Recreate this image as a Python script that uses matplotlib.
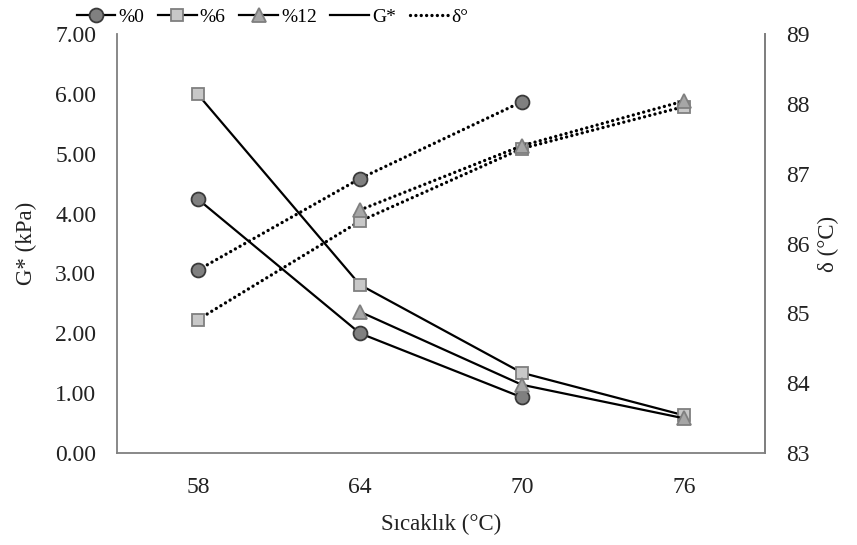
import numpy as np
import matplotlib.pyplot as plt
from matplotlib.lines import Line2D

plt.rcParams['font.family'] = ['Liberation Serif', 'DejaVu Serif']

temps = ['58', '64', '70', '76']
nan = np.nan

gstar_0 = [4.24, 2.00, 0.93, nan]
gstar_6 = [5.99, 2.81, 1.34, 0.63]
gstar_12 = [nan, 2.36, 1.14, 0.58]

delta_0 = [85.62, 86.93, 88.03, nan]
delta_6 = [84.91, 86.32, 87.36, 87.96]
delta_12 = [nan, 86.48, 87.40, 88.04]

series_names = ['%0', '%6', '%12']
markers = {'%0': 'o', '%6': 's', '%12': '^'}
faces = {'%0': '#808080', '%6': '#c8c8c8', '%12': '#a6a6a6'}
edges = {'%0': '#3a3a3a', '%6': '#7f7f7f', '%12': '#7f7f7f'}
msize = {'%0': 10, '%6': 9, '%12': 10}

fig = plt.figure(figsize=(8.57, 5.45), dpi=100)
ax = fig.add_axes([0.1365, 0.1688, 0.756, 0.7688])
ax2 = ax.twinx()

x = np.arange(len(temps))
dot_style = dict(linestyle=(0, (0.01, 1.6)), linewidth=2.4, dash_capstyle='round', color='black')

for name, g, d in zip(series_names, [gstar_0, gstar_6, gstar_12], [delta_0, delta_6, delta_12]):
    g = np.array(g, dtype=float)
    d = np.array(d, dtype=float)
    mk = dict(marker=markers[name], markersize=msize[name], markerfacecolor=faces[name],
              markeredgecolor=edges[name], markeredgewidth=1.3)
    ax.plot(x[~np.isnan(g)], g[~np.isnan(g)], color='black', linewidth=1.6, zorder=3, **mk)
    ax2.plot(x[~np.isnan(d)], d[~np.isnan(d)], zorder=3, **dot_style, **mk)

ax.set_xlim(-0.5, 3.5)
ax.set_ylim(0, 7)
ax2.set_ylim(83, 89)
ax.set_xticks(x)
ax.set_xticklabels(temps)
ax.set_yticks(np.arange(0, 8, 1))
ax.set_yticklabels([f'{v:.2f}' for v in np.arange(0, 8, 1)])
ax2.set_yticks(np.arange(83, 90, 1))

for a in (ax, ax2):
    a.spines['top'].set_visible(False)
    for s in ('left', 'right', 'bottom'):
        a.spines[s].set_color('#7f7f7f')
        a.spines[s].set_linewidth(1.3)
    a.tick_params(length=0, labelsize=17, colors='#222222')
ax.tick_params(axis='y', pad=15)
ax.tick_params(axis='x', pad=17)
ax2.tick_params(axis='y', pad=15)
ax2.spines['left'].set_visible(False)
ax2.spines['bottom'].set_visible(False)

ax.set_xlabel('Sıcaklık (°C)', fontsize=16.5, color='#222222', labelpad=12)
ax.set_ylabel('G* (kPa)', fontsize=16.5, color='#222222', labelpad=13)
ax2.set_ylabel('δ (°C)', fontsize=16.5, color='#222222', labelpad=6)

handles = []
for name in series_names:
    handles.append(Line2D([], [], color='black', linewidth=1.6, marker=markers[name],
                          markersize=msize[name], markerfacecolor=faces[name],
                          markeredgecolor=edges[name], markeredgewidth=1.3))
handles.append(Line2D([], [], color='black', linewidth=1.6))
handles.append(Line2D([], [], **dot_style))
labels = series_names + ['G*', 'δ°']
fig.legend(handles, labels, loc='center', bbox_to_anchor=(0.318, 0.968), ncol=5, frameon=False,
           fontsize=14, handlelength=2.0, columnspacing=0.7, handletextpad=0.15)

fig.savefig('out.png', dpi=100)
